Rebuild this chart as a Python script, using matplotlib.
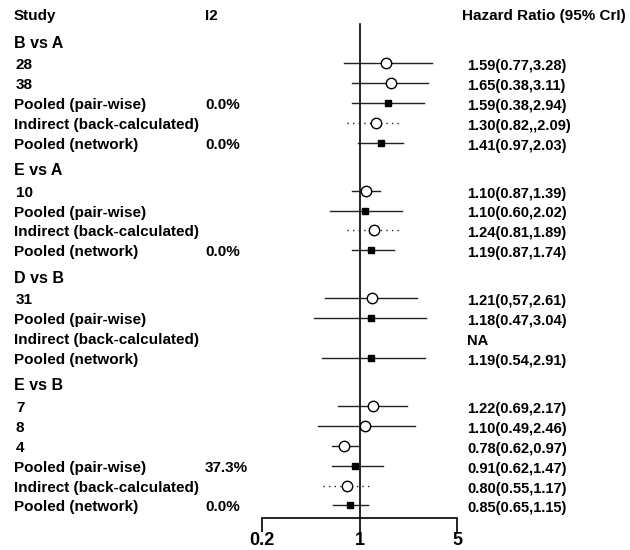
import numpy as np
import matplotlib
matplotlib.use('Agg')
import matplotlib.pyplot as plt

plt.rcParams['font.family'] = ['Liberation Sans', 'DejaVu Sans']
plt.rcParams['font.weight'] = 'bold'

# data
group_names = ['B vs A', 'E vs A', 'D vs B', 'E vs B']
group_sizes = [5, 4, 4, 6]
row_labels = ['28', '38', 'Pooled (pair-wise)', 'Indirect (back-calculated)', 'Pooled (network)',
              '10', 'Pooled (pair-wise)', 'Indirect (back-calculated)', 'Pooled (network)',
              '31', 'Pooled (pair-wise)', 'Indirect (back-calculated)', 'Pooled (network)',
              '7', '8', '4', 'Pooled (pair-wise)', 'Indirect (back-calculated)', 'Pooled (network)']
row_kind = ['study', 'study', 'pair', 'indirect', 'network',
            'study', 'pair', 'indirect', 'network',
            'study', 'pair', 'indirect', 'network',
            'study', 'study', 'study', 'pair', 'indirect', 'network']
i2_text = ['', '', '0.0%', '', '0.0%',
           '', '', '', '0.0%',
           '', '', '', '',
           '', '', '', '37.3%', '', '0.0%']
hr_est = [1.56, 1.67, 1.59, 1.31, 1.42,
          1.11, 1.10, 1.26, 1.20,
          1.23, 1.20, np.nan, 1.20,
          1.25, 1.10, 0.78, 0.93, 0.81, 0.85]
hr_lo = [0.78, 0.885, 0.885, 0.815, 0.97,
         0.88, 0.61, 0.82, 0.89,
         0.57, 0.47, np.nan, 0.54,
         0.70, 0.50, 0.63, 0.63, 0.55, 0.65]
hr_hi = [3.30, 3.12, 2.90, 2.03, 2.06,
         1.41, 2.02, 1.93, 1.78,
         2.57, 3.02, np.nan, 2.95,
         2.20, 2.49, 0.98, 1.48, 1.20, 1.16]
hr_text = ['1.59(0.77,3.28)', '1.65(0.38,3.11)', '1.59(0.38,2.94)', '1.30(0.82,,2.09)', '1.41(0.97,2.03)',
           '1.10(0.87,1.39)', '1.10(0.60,2.02)', '1.24(0.81,1.89)', '1.19(0.87,1.74)',
           '1.21(0,57,2.61)', '1.18(0.47,3.04)', 'NA', '1.19(0.54,2.91)',
           '1.22(0.69,2.17)', '1.10(0.49,2.46)', '0.78(0.62,0.97)', '0.91(0.62,1.47)', '0.80(0.55,1.17)', '0.85(0.65,1.15)']
x_ticks = [0.2, 1, 5]
x_ticklabels = ['0.2', '1', '5']

W, H = 630, 550
fig = plt.figure(figsize=(W / 100, H / 100), dpi=100)

# layout of rows (in pixels from top)
y_rows, y_groups = [], []
y = 15
for g, n in zip(group_names, group_sizes):
    y += 27
    y_groups.append(y)
    y += 21
    for j in range(n):
        if j > 0:
            y += 19.9
        y_rows.append(y)

axis_y = 518
ax = fig.add_axes([262 / W, 1 - axis_y / H, (457 - 262) / W, axis_y / H])
ax.set_xscale('log')
ax.set_xlim(0.2, 5)
ax.set_ylim(axis_y, 0)
for s in ['top', 'right', 'left']:
    ax.spines[s].set_visible(False)
ax.spines['bottom'].set_linewidth(1.2)
ax.set_yticks([])
ax.set_xticks(x_ticks)
ax.set_xticks([], minor=True)
ax.set_xticklabels(x_ticklabels, fontsize=13)
ax.tick_params(axis='x', direction='out', length=10, width=1.2, pad=0)
ax.axvline(1, ymin=0, ymax=(axis_y - 24) / axis_y, color='black', lw=1.2)

lc = '#222222'
for yy, kind, e, lo, hi in zip(y_rows, row_kind, hr_est, hr_lo, hr_hi):
    if np.isnan(e):
        continue
    if kind == 'indirect':
        ax.plot([lo, hi], [yy, yy], color=lc, lw=1.0, ls=(0, (1, 3)))
        ax.plot(e, yy, 'o', ms=7.5, mfc='white', mec='black', mew=1.0)
    elif kind == 'study':
        ax.plot([lo, hi], [yy, yy], color=lc, lw=1.0)
        ax.plot(e, yy, 'o', ms=7.5, mfc='white', mec='black', mew=1.0)
    else:
        ax.plot([lo, hi], [yy, yy], color=lc, lw=1.0)
        ax.plot(e, yy, 's', ms=5, color='black')


def ftext(x, y, s, size=11, **kw):
    fig.text(x / W, 1 - y / H, s, fontsize=size, va='center', ha='left', fontweight='bold', **kw)


ftext(14, 16, 'Study')
ftext(205, 16, 'I2')
ftext(462, 16, 'Hazard Ratio (95% CrI)', size=11)
for g, yg in zip(group_names, y_groups):
    ftext(14, yg + 1, g, size=11.5)
for lab, yy, i2, hr, kind in zip(row_labels, y_rows, i2_text, hr_text, row_kind):
    ftext(16 if kind == 'study' else 14, yy + 2, lab)
    if i2:
        ftext(205, yy + 2, i2)
    ftext(467, yy + 3, hr, size=10.5)

fig.savefig('out.png', dpi=100)
